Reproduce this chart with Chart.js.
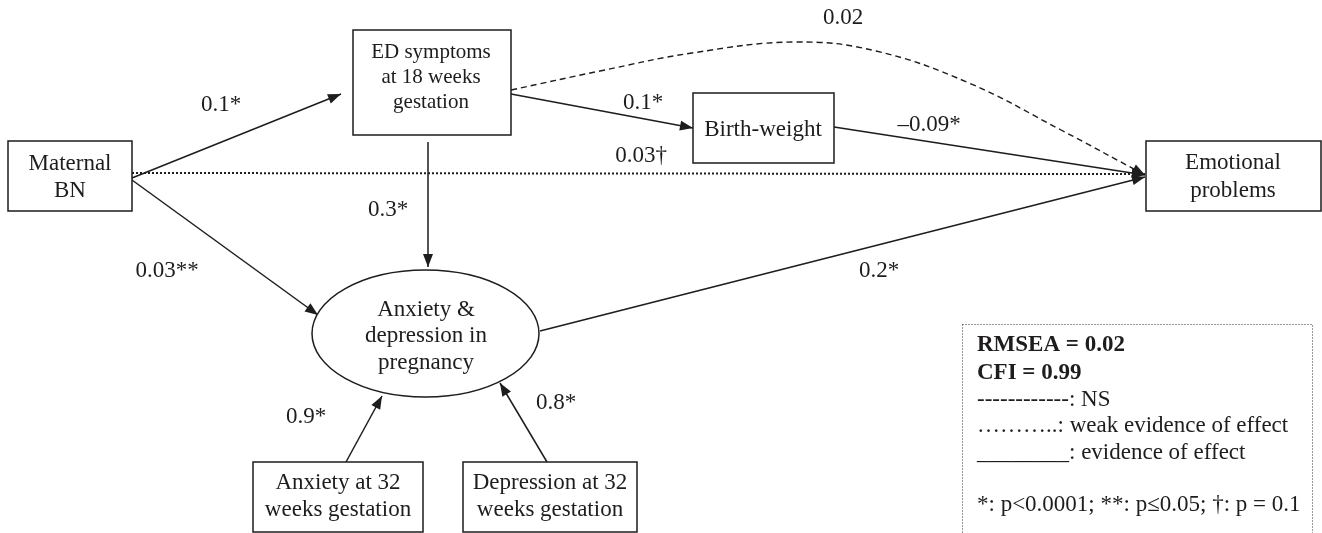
<!DOCTYPE html>
<html>
<head>
<meta charset="utf-8">
<script src="https://cdn.jsdelivr.net/npm/chart.js@4/dist/chart.umd.min.js"></script>
<style>
html,body{margin:0;padding:0;background:#fff;overflow:hidden;}
canvas{display:block;}
</style>
</head>
<body>
<canvas id="c" width="1322" height="533"></canvas>
<script>
// ---------- DATA ----------
const nodeNames = [
  ['Maternal', 'BN'],
  ['ED symptoms', 'at 18 weeks', 'gestation'],
  ['Birth-weight'],
  ['Emotional', 'problems'],
  ['Anxiety &', 'depression in', 'pregnancy'],
  ['Anxiety at 32', 'weeks gestation'],
  ['Depression at 32', 'weeks gestation']
];
const pathFrom = [0, 1, 2, 0, 1, 1, 0, 4, 5, 6];
const pathTo   = [1, 2, 3, 3, 3, 4, 4, 3, 4, 4];
const pathCoefficients = ['0.1*', '0.1*', '\u20130.09*', '0.03\u2020', '0.02', '0.3*', '0.03**', '0.2*', '0.9*', '0.8*'];
const pathEvidence = ['effect', 'effect', 'effect', 'weak', 'NS', 'effect', 'effect', 'effect', 'effect', 'effect'];
const fitStatistics = ['RMSEA = 0.02', 'CFI = 0.99'];
const legendKey = ['------------: NS', '\u2026\u2026\u2026..: weak evidence of effect', '________: evidence of effect', '', '*: p<0.0001; **: p\u22640.05; \u2020: p = 0.1'];

// ---------- LAYOUT (axis units) ----------
const nodeLayout = [
  {x0: 8,   y0: 141, x1: 132,  y1: 211, shape: 'box', cx: 70,   cy: 177, font: 23, lh: 27},
  {x0: 353, y0: 30,  x1: 511,  y1: 135, shape: 'box', cx: 431,  cy: 77,  font: 21, lh: 25},
  {x0: 693, y0: 93,  x1: 834,  y1: 163, shape: 'box', cx: 763,  cy: 130, font: 23, lh: 27},
  {x0: 1146,y0: 141, x1: 1321, y1: 211, shape: 'box', cx: 1233, cy: 177, font: 23, lh: 28},
  {x0: 312, y0: 270, x1: 539,  y1: 397, shape: 'ellipse', cx: 426, cy: 336, font: 23, lh: 26.5},
  {x0: 253, y0: 462, x1: 423,  y1: 532, shape: 'box', cx: 338,  cy: 496, font: 23, lh: 27},
  {x0: 463, y0: 462, x1: 637,  y1: 532, shape: 'box', cx: 550,  cy: 496, font: 23, lh: 27}
];
const pathGeometry = [
  [[132, 178], [341, 94]],
  [[511, 94], [693, 128]],
  [[834, 127], [1145, 175]],
  [[132, 173], [1145, 174]],
  [[511, 90], [600, 71], [692, 53], [795, 42], [876, 51], [969, 83], [1061, 130], [1145, 175]],
  [[428, 142], [428, 267]],
  [[132, 180], [318, 315]],
  [[540, 331], [1145, 177]],
  [[346, 462], [382, 396]],
  [[547, 462], [500, 383]]
];
const labelPositions = [[221,105],[643,103],[929,125],[641,156],[843,18],[388,210],[167,271],[879,271],[306,417],[556,403]];
const legendFrame = {x0: 962, y0: 324, x1: 1312, y1: 540, textX: 977, lines: [345, 373, 400, 426, 453, 480, 505]};

const SERIF = '"Liberation Serif", "Times New Roman", serif';
const INK = '#1e1c1d';
const dashFor = {effect: [], weak: [2, 2], NS: [6, 4]};
const widthFor = {effect: 1.5, weak: 2, NS: 1.4};

const datasets = pathGeometry.map((pts, i) => ({
  label: nodeNames[pathFrom[i]].join(' ') + ' \u2192 ' + nodeNames[pathTo[i]].join(' '),
  data: pts.map(p => ({x: p[0], y: p[1]})),
  showLine: true,
  borderColor: INK,
  backgroundColor: INK,
  borderWidth: widthFor[pathEvidence[i]],
  borderDash: dashFor[pathEvidence[i]],
  pointRadius: 0,
  pointHoverRadius: 0,
  tension: pts.length > 2 ? 0.4 : 0,
  fill: false
}));

const diagramPlugin = {
  id: 'pathDiagram',
  beforeDraw(chart) {
    const ctx = chart.ctx;
    ctx.save();
    ctx.fillStyle = '#fff';
    ctx.fillRect(0, 0, chart.width, chart.height);
    ctx.restore();
  },
  afterDatasetsDraw(chart) {
    const ctx = chart.ctx;
    const xs = chart.scales.x, ys = chart.scales.y;
    const X = v => xs.getPixelForValue(v), Y = v => ys.getPixelForValue(v);
    ctx.save();
    // arrowheads
    chart.data.datasets.forEach((ds, i) => {
      const meta = chart.getDatasetMeta(i);
      const n = meta.data.length;
      const last = meta.data[n - 1];
      let px, py;
      if (n > 2 && last.cp1x !== undefined) { px = last.cp1x; py = last.cp1y; }
      else { px = meta.data[n - 2].x; py = meta.data[n - 2].y; }
      const a = Math.atan2(last.y - py, last.x - px);
      const L = 13, W = 5;
      ctx.beginPath();
      ctx.moveTo(last.x, last.y);
      ctx.lineTo(last.x - L * Math.cos(a) + W * Math.sin(a), last.y - L * Math.sin(a) - W * Math.cos(a));
      ctx.lineTo(last.x - L * Math.cos(a) - W * Math.sin(a), last.y - L * Math.sin(a) + W * Math.cos(a));
      ctx.closePath();
      ctx.fillStyle = INK;
      ctx.fill();
    });
    // nodes
    nodeLayout.forEach((nd, i) => {
      const x0 = X(nd.x0), x1 = X(nd.x1), y0 = Y(nd.y0), y1 = Y(nd.y1);
      ctx.lineWidth = 1.5;
      ctx.strokeStyle = INK;
      ctx.fillStyle = '#fff';
      ctx.setLineDash([]);
      ctx.beginPath();
      if (nd.shape === 'ellipse') {
        ctx.ellipse((x0 + x1) / 2, (y0 + y1) / 2, (x1 - x0) / 2, (y1 - y0) / 2, 0, 0, Math.PI * 2);
      } else {
        ctx.rect(x0, y0, x1 - x0, y1 - y0);
      }
      ctx.fill();
      ctx.stroke();
      ctx.fillStyle = INK;
      ctx.font = nd.font + 'px ' + SERIF;
      ctx.textAlign = 'center';
      ctx.textBaseline = 'middle';
      const lines = nodeNames[i];
      const start = nd.cy - (lines.length - 1) * nd.lh / 2;
      lines.forEach((t, k) => ctx.fillText(t, X(nd.cx), Y(start + k * nd.lh)));
    });
    // coefficient labels
    ctx.font = '23px ' + SERIF;
    ctx.fillStyle = INK;
    ctx.textAlign = 'center';
    ctx.textBaseline = 'middle';
    pathCoefficients.forEach((t, i) => ctx.fillText(t, X(labelPositions[i][0]), Y(labelPositions[i][1])));
    // legend box
    const lf = legendFrame;
    ctx.beginPath();
    ctx.setLineDash([1, 2]);
    ctx.lineWidth = 1;
    ctx.strokeStyle = '#333';
    ctx.rect(X(lf.x0) + 0.5, Y(lf.y0) + 0.5, X(lf.x1) - X(lf.x0), Y(lf.y1) - Y(lf.y0));
    ctx.stroke();
    ctx.setLineDash([]);
    ctx.textAlign = 'left';
    ctx.fillStyle = INK;
    const allLines = fitStatistics.concat(legendKey);
    allLines.forEach((t, k) => {
      ctx.font = (k < fitStatistics.length ? 'bold ' : '') + '23px ' + SERIF;
      if (t) ctx.fillText(t, X(lf.textX), Y(lf.lines[k]));
    });
    ctx.restore();
  }
};

new Chart(document.getElementById('c'), {
  type: 'scatter',
  data: {datasets},
  options: {
    responsive: false,
    animation: false,
    devicePixelRatio: 1,
    layout: {padding: 0},
    events: [],
    plugins: {legend: {display: false}, tooltip: {enabled: false}, title: {display: false}},
    scales: {
      x: {type: 'linear', min: 0, max: 1322, display: false},
      y: {type: 'linear', min: 0, max: 533, reverse: true, display: false}
    }
  },
  plugins: [diagramPlugin]
});
</script>
</body>
</html>
